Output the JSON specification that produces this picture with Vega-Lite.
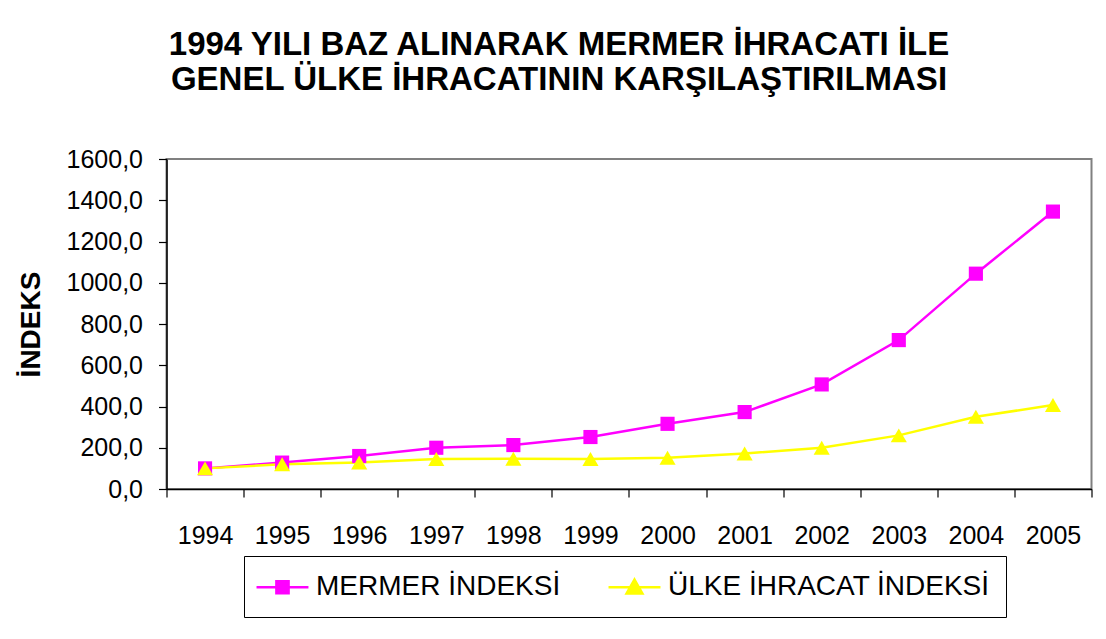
{
  "$schema": "https://vega.github.io/schema/vega-lite/v6.json",
  "width": 925,
  "height": 330,
  "autosize": {"type": "none"},
  "padding": {"left": 166.5, "top": 159, "right": 14.5, "bottom": 150},
  "background": "white",
  "title": {
    "text": ["1994 YILI BAZ ALINARAK MERMER İHRACATI İLE", "GENEL ÜLKE İHRACATININ KARŞILAŞTIRILMASI"],
    "font": "Liberation Sans",
    "fontSize": 33,
    "fontWeight": "bold",
    "color": "black",
    "anchor": "middle",
    "frame": "group",
    "dx": -70,
    "baseline": "bottom",
    "offset": 17,
    "lineHeight": 35
  },
  "config": {
    "view": {"stroke": "#808080", "strokeWidth": 2}
  },
  "data": {
    "values": [
      {"yil": "1994", "seri": "MERMER İNDEKSİ", "deger": 100},
      {"yil": "1995", "seri": "MERMER İNDEKSİ", "deger": 128},
      {"yil": "1996", "seri": "MERMER İNDEKSİ", "deger": 160},
      {"yil": "1997", "seri": "MERMER İNDEKSİ", "deger": 200},
      {"yil": "1998", "seri": "MERMER İNDEKSİ", "deger": 213},
      {"yil": "1999", "seri": "MERMER İNDEKSİ", "deger": 252},
      {"yil": "2000", "seri": "MERMER İNDEKSİ", "deger": 316},
      {"yil": "2001", "seri": "MERMER İNDEKSİ", "deger": 373},
      {"yil": "2002", "seri": "MERMER İNDEKSİ", "deger": 507},
      {"yil": "2003", "seri": "MERMER İNDEKSİ", "deger": 722},
      {"yil": "2004", "seri": "MERMER İNDEKSİ", "deger": 1044},
      {"yil": "2005", "seri": "MERMER İNDEKSİ", "deger": 1345},
      {"yil": "1994", "seri": "ÜLKE İHRACAT İNDEKSİ", "deger": 100},
      {"yil": "1995", "seri": "ÜLKE İHRACAT İNDEKSİ", "deger": 120},
      {"yil": "1996", "seri": "ÜLKE İHRACAT İNDEKSİ", "deger": 129},
      {"yil": "1997", "seri": "ÜLKE İHRACAT İNDEKSİ", "deger": 145},
      {"yil": "1998", "seri": "ÜLKE İHRACAT İNDEKSİ", "deger": 147},
      {"yil": "1999", "seri": "ÜLKE İHRACAT İNDEKSİ", "deger": 145},
      {"yil": "2000", "seri": "ÜLKE İHRACAT İNDEKSİ", "deger": 152},
      {"yil": "2001", "seri": "ÜLKE İHRACAT İNDEKSİ", "deger": 172},
      {"yil": "2002", "seri": "ÜLKE İHRACAT İNDEKSİ", "deger": 200},
      {"yil": "2003", "seri": "ÜLKE İHRACAT İNDEKSİ", "deger": 260},
      {"yil": "2004", "seri": "ÜLKE İHRACAT İNDEKSİ", "deger": 350},
      {"yil": "2005", "seri": "ÜLKE İHRACAT İNDEKSİ", "deger": 407}
    ]
  },
  "encoding": {
    "x": {
      "field": "yil",
      "type": "ordinal",
      "scale": {"type": "band", "paddingInner": 0, "paddingOuter": 0},
      "axis": {
        "title": null,
        "labelAngle": 0,
        "tickBand": "extent",
        "labelFont": "Liberation Sans",
        "labelFontSize": 25,
        "labelColor": "black",
        "labelPadding": 26,
        "tickSize": 8,
        "tickColor": "black",
        "tickWidth": 1.2,
        "domainColor": "black",
        "domainWidth": 1.5,
        "grid": false
      }
    },
    "y": {
      "field": "deger",
      "type": "quantitative",
      "scale": {"domain": [0, 1600], "nice": false},
      "axis": {
        "title": "İNDEKS",
        "titleFont": "Liberation Sans",
        "titleFontSize": 28,
        "titleFontWeight": "bold",
        "titleColor": "black",
        "titleAngle": -90,
        "titleX": -127.5,
        "titleY": 165,
        "titleBaseline": "alphabetic",
        "titleAlign": "center",
        "values": [0, 200, 400, 600, 800, 1000, 1200, 1400, 1600],
        "labelExpr": "replace(format(datum.value, '.1f'), '.', ',')",
        "labelFont": "Liberation Sans",
        "labelFontSize": 25,
        "labelColor": "black",
        "labelPadding": 16,
        "tickSize": 8,
        "tickColor": "black",
        "tickWidth": 1.2,
        "domainColor": "black",
        "domainWidth": 1.5,
        "grid": false
      }
    }
  },
  "layer": [
    {
      "mark": {"type": "line", "strokeWidth": 2.5},
      "encoding": {
        "color": {
          "field": "seri",
          "type": "nominal",
          "scale": {"domain": ["MERMER İNDEKSİ", "ÜLKE İHRACAT İNDEKSİ"], "range": ["#FF00FF", "#FFFF00"]},
          "legend": {
            "orient": "none",
            "legendX": 77.5,
            "legendY": 397,
            "direction": "horizontal",
            "title": null,
            "strokeColor": "black",
            "fillColor": "white",
            "padding": 15.5,
            "symbolSize": 784,
            "symbolStrokeWidth": 2.5,
            "labelFont": "Liberation Sans",
            "labelFontSize": 28,
            "labelColor": "black",
            "labelLimit": 600,
            "labelOffset": 25.5,
            "columnPadding": 43,
            "encode": {
              "symbols": {
                "update": {
                  "shape": {"signal": "datum.value === 'MERMER İNDEKSİ' ? 'M-1.32,0H2.39M0.1,-0.43H0.97V0.43H0.1Z' : 'M-1.32,0H2.39M0.536,-0.55L1.1,0.45H-0.03Z'"},
                  "fill": {"signal": "datum.value === 'MERMER İNDEKSİ' ? '#FF00FF' : '#FFFF00'"},
                  "stroke": {"signal": "datum.value === 'MERMER İNDEKSİ' ? '#FF00FF' : '#FFFF00'"},
                  "strokeWidth": {"value": 2.5},
                  "opacity": {"value": 1}
                }
              }
            }
          }
        }
      }
    },
    {
      "transform": [{"filter": "datum.seri === 'MERMER İNDEKSİ'"}],
      "mark": {"type": "point", "filled": true, "shape": "square", "size": 200, "opacity": 1},
      "encoding": {
        "color": {"field": "seri", "type": "nominal", "legend": null}
      }
    },
    {
      "transform": [{"filter": "datum.seri === 'ÜLKE İHRACAT İNDEKSİ'"}],
      "mark": {"type": "point", "filled": true, "shape": "triangle-up", "size": 260, "opacity": 1},
      "encoding": {
        "color": {"field": "seri", "type": "nominal", "legend": null}
      }
    }
  ]
}
